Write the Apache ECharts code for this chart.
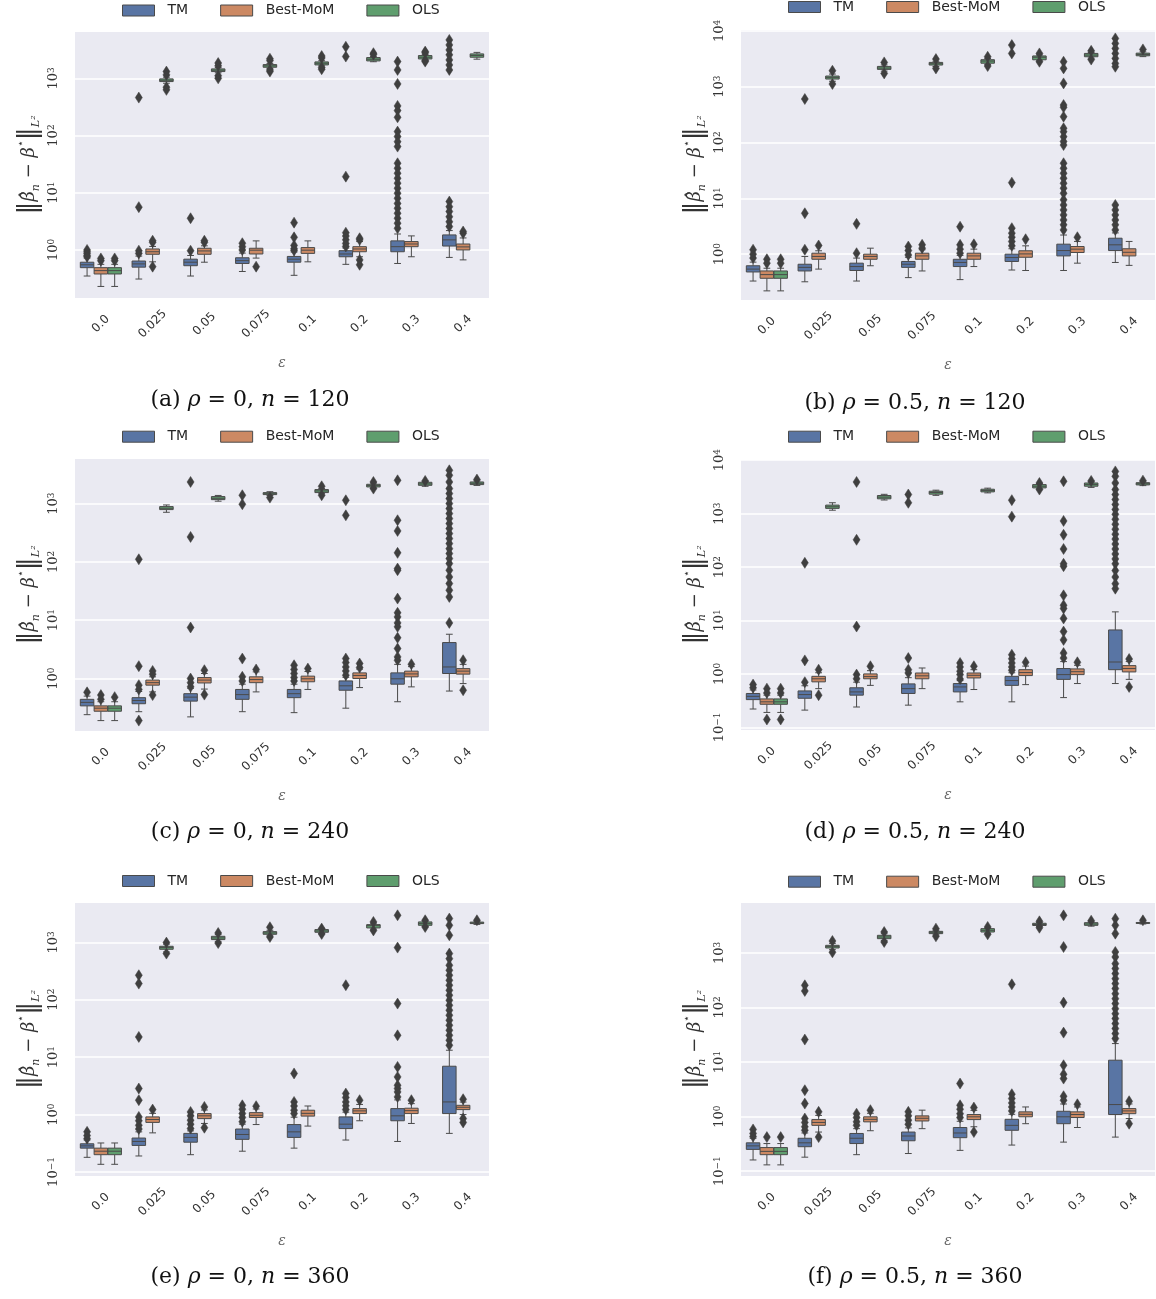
<!DOCTYPE html>
<html><head><meta charset="utf-8">
<script src="https://cdn.jsdelivr.net/npm/echarts@6/dist/echarts.min.js"></script>
<style>html,body{margin:0;padding:0;background:#fff}#c{width:1156px;height:1299px}</style>
</head><body><div id="c"></div><script>
const categories = ['0.0','0.025','0.05','0.075','0.1','0.2','0.3','0.4'];
const hueNames = ['TM','Best-MoM','OLS'];
const captionTags = ['(a)','(b)','(c)','(d)','(e)','(f)'];
const rhoValues = ['0','0.5','0','0.5','0','0.5'];
const nValues = ['120','120','240','240','360','360'];

// box stats: [lower whisker, q1, median, q3, upper whisker] per category
const tmBoxA = [[0.35,0.49,0.55,0.61,0.72],[0.31,0.50,0.57,0.64,0.78],[0.35,0.53,0.61,0.69,0.80],[0.42,0.58,0.65,0.73,0.88],[0.36,0.61,0.69,0.77,0.92],[0.56,0.76,0.85,0.97,1.08],[0.58,0.93,1.14,1.44,1.9],[0.74,1.17,1.5,1.83,2.18]];
const momBoxA = [[0.23,0.38,0.435,0.49,0.56],[0.62,0.84,0.93,1.04,1.15],[0.61,0.84,0.96,1.07,1.18],[0.72,0.85,0.99,1.07,1.44],[0.62,0.87,0.99,1.1,1.44],[0.76,0.93,1.04,1.14,1.4],[0.76,1.14,1.27,1.4,1.76],[0.67,1.0,1.13,1.27,1.62]];
const olsBoxA = [[0.23,0.38,0.435,0.49,0.56],[820,877,925,977,1047],[1250,1312,1386,1460,1540],[1480,1560,1650,1738,1820],[1650,1715,1833,1935,2030],[1950,2015,2155,2305,2400],[2100,2180,2335,2500,2620],[2160,2335,2510,2670,2840]];
const tmOutA = [[1.0,0.93,0.87,0.8,0.76],[0.87,0.97,5.6,460],[0.97,3.58],[1.31,1.14,1.0],[3.0,1.66,1.2,1.05,0.98],[1.15,1.3,1.5,1.75,2.0,19.1,2400,3560],[1960,1400,798,329,273,208,117,96,78,64,32.7,26.8,21.9,17.9,14.7,12,9.8,8.0,6.5,5.35,4.37,3.58,2.93,2.39],[7.0,5.7,4.7,3.8,3.1,2.56,4690,3840,3140,2570,2100,1715,1400]];
const momOutA = [[0.71,0.65],[1.36,1.45,0.51],[1.36,1.45],[0.51],[],[1.5,1.6,0.67,0.55],[],[1.96,2.1]];
const olsOutA = [[0.71,0.65],[1312,1148,700,628],[1850,1650,1110,1000],[2040,2200,1312,1400],[2275,2450,1440,1550],[2750,2600],[2930,1960,2800,2050],[]];

const tmBoxB = [[0.33,0.48,0.54,0.62,0.72],[0.32,0.5,0.58,0.66,0.91],[0.33,0.51,0.6,0.69,0.85],[0.38,0.58,0.66,0.74,0.88],[0.35,0.6,0.71,0.81,0.95],[0.52,0.74,0.87,1.0,1.25],[0.51,0.93,1.16,1.51,2.2],[0.71,1.16,1.47,1.93,2.4]];
const momBoxB = [[0.22,0.37,0.43,0.5,0.56],[0.54,0.81,0.91,1.04,1.15],[0.62,0.81,0.91,1.0,1.28],[0.5,0.81,0.93,1.04,1.2],[0.6,0.81,0.93,1.04,1.23],[0.51,0.88,1.01,1.15,1.41],[0.69,1.07,1.23,1.37,1.69],[0.63,0.93,1.08,1.25,1.69]];
const olsBoxB = [[0.22,0.37,0.43,0.5,0.56],[1250,1370,1467,1550,1680],[1900,2040,2155,2305,2450],[2300,2440,2575,2720,2850],[2500,2630,2875,3040,3200],[2900,3030,3365,3550,3700],[3250,3435,3680,3940,4100],[3450,3575,3775,3985,4200]];
const tmOutB = [[1.2,1.0,0.85],[1.2,5.4,601],[1.04,3.49],[1.37,1.16,0.97],[3.1,1.47,1.23,1.04],[2.92,2.38,2.01,1.69,1.41,19.1,5560,3940],[2800,2125,1145,469,427,290,180,156,127,104,90,42.5,34.5,28.1,22.9,18.6,15.2,12.3,9.4,7.6,6.2,5.05,4.1,3.35,2.72],[7.6,6.2,5.05,4.1,3.35,2.72,7310,5960,4840,3940,3210,2610,2275]];
const momOutB = [[0.81,0.69],[1.43],[],[1.47,1.28],[1.5],[1.85],[2.01],[]];
const olsOutB = [[0.81,0.69],[1930,1115],[2720,1730],[3120,2125],[3435,2340],[3940,2795],[4380,3060],[4650]];

const tmBoxC = [[0.24,0.34,0.39,0.44,0.5],[0.27,0.37,0.42,0.47,0.6],[0.22,0.41,0.48,0.55,0.68],[0.27,0.44,0.53,0.65,0.8],[0.26,0.47,0.55,0.65,0.8],[0.31,0.63,0.75,0.91,1.05],[0.4,0.8,0.99,1.25,1.75],[0.61,1.22,1.58,4.14,5.75]];
const momBoxC = [[0.19,0.275,0.31,0.34,0.4],[0.59,0.77,0.85,0.94,1.07],[0.66,0.84,0.94,1.04,1.22],[0.59,0.85,0.96,1.07,1.3],[0.65,0.88,0.99,1.1,1.32],[0.7,1.0,1.13,1.25,1.45],[0.72,1.07,1.2,1.34,1.6],[0.82,1.19,1.34,1.48,1.75]];
const olsBoxC = [[0.19,0.275,0.31,0.34,0.4],[710,789,832,889,948],[1100,1170,1235,1320,1380],[1380,1427,1505,1540,1600],[1480,1545,1650,1740,1820],[1850,1930,2035,2145,2250],[1980,2060,2175,2320,2400],[2050,2118,2230,2350,2450]];
const tmOutC = [[0.58],[0.19,0.77,0.65,1.63,111],[1.0,0.85,0.72,7.5,268,2350],[1.07,0.91,2.2,1390,975],[1.69,1.43,1.22,1.04,0.91],[2.2,1.88,1.58,1.35,1.14,1140,630],[2510,518,340,143,77,72,23.5,13.4,11.4,9.0,7.7,5.0,3.27,2.35,2.06],[9.0,3725,3060,2350,1808,1485,1218,1000,821,674,553,454,373,306,251,206,169,139,114,93.6,72,55.3,42.5,32.7,25.1]];
const momOutC = [[0.52,0.44],[1.35,1.19,0.52],[1.39,0.53],[1.43],[1.48],[1.81,1.54],[1.76],[2.06,0.63]];
const olsOutC = [[0.48],[],[],[1267],[1980,1390],[2350,1808],[2450],[2580]];

const tmBoxD = [[0.22,0.33,0.38,0.43,0.5],[0.21,0.35,0.41,0.48,0.6],[0.24,0.4,0.46,0.55,0.7],[0.26,0.43,0.53,0.65,0.85],[0.3,0.46,0.57,0.66,0.75],[0.3,0.61,0.75,0.9,1.05],[0.36,0.79,0.97,1.26,1.7],[0.66,1.2,1.67,6.65,14.5]];
const momBoxD = [[0.19,0.27,0.3,0.34,0.4],[0.53,0.71,0.81,0.9,1.05],[0.61,0.81,0.89,1.0,1.15],[0.53,0.81,0.92,1.04,1.29],[0.51,0.84,0.94,1.04,1.2],[0.63,0.93,1.06,1.2,1.4],[0.66,0.97,1.1,1.24,1.45],[0.79,1.09,1.26,1.43,1.7]];
const olsBoxD = [[0.19,0.27,0.3,0.34,0.4],[1160,1255,1346,1445,1600],[1800,1895,2035,2185,2300],[2200,2315,2485,2630,2750],[2450,2557,2705,2865,3000],[2900,3035,3260,3500,3650],[3100,3260,3500,3750,3900],[3350,3450,3630,3800,3950]];
const tmOutD = [[0.63,0.55],[0.7,1.79,120],[0.97,0.81,7.7,324,3920],[1.2,1.04,1.98,2280,1597],[1.6,1.35,1.12,0.97,0.8],[2.28,1.92,1.6,1.35,1.17,1790,879],[4030,730,402,218,115,104,29.6,19.3,16.8,10.9,6.2,4.33,2.45,1.98],[6180,4990,3755,2825,2280,1843,1490,1202,971,784,634,512,413,334,270,218,176,142,115,86,65,48.8,39.4]];
const momOutD = [[0.53,0.44,0.14],[1.2,0.4],[1.39],[],[1.39],[1.65],[1.65],[1.9,0.57]];
const olsOutD = [[0.53,0.44,0.14],[],[],[],[],[3750,2825],[4100],[4150]];

const tmBoxE = [[0.18,0.26,0.285,0.31,0.36],[0.19,0.29,0.34,0.39,0.5],[0.2,0.33,0.4,0.47,0.52],[0.23,0.37,0.45,0.56,0.68],[0.26,0.4,0.5,0.67,0.9],[0.36,0.57,0.68,0.91,1.1],[0.34,0.78,0.95,1.27,1.8],[0.47,1.04,1.66,6.95,13.2]];
const momBoxE = [[0.136,0.2,0.23,0.26,0.32],[0.48,0.73,0.82,0.91,1.05],[0.7,0.85,0.95,1.04,1.2],[0.67,0.89,0.97,1.08,1.25],[0.63,0.94,1.05,1.19,1.41],[0.78,1.04,1.16,1.27,1.5],[0.7,1.04,1.17,1.29,1.55],[1.0,1.22,1.34,1.45,1.65]];
const olsBoxE = [[0.136,0.2,0.23,0.26,0.32],[680,756,808,853,930],[1040,1116,1192,1273,1360],[1300,1380,1456,1535,1620],[1420,1496,1577,1667,1750],[1700,1780,1950,2033,2150],[1900,1980,2118,2265,2350],[2050,2120,2170,2250,2330]];
const tmOutE = [[0.5,0.43,0.38],[0.91,0.78,0.65,0.56,1.78,2.84,22.5,267,191],[1.11,0.95,0.8,0.68,0.57],[1.45,1.24,1.04,0.89,0.75],[1.66,1.41,1.19,1.04,5.2],[2.32,1.98,1.66,1.42,1.22,179],[2955,809,85.7,24,6.76,4.53,3.24,2.84,2.48,2.03],[2590,1980,1325,636,520,398,326,267,218,179,146,120,98,80,65.6,53.7,43.9,35.9,29.4,24,19.7,16.1]];
const momOutE = [[],[1.22],[1.36,0.59],[1.4],[],[1.78],[1.78],[1.85,0.85,0.73]];
const olsOutE = [[],[988,636],[1455,970],[1830,1240],[1733,1400],[2265,1610],[2420,1850],[2420]];

const tmBoxF = [[0.16,0.25,0.29,0.33,0.4],[0.18,0.28,0.33,0.4,0.5],[0.2,0.32,0.4,0.49,0.6],[0.21,0.36,0.44,0.52,0.62],[0.24,0.41,0.5,0.63,0.82],[0.3,0.56,0.69,0.89,1.1],[0.34,0.74,0.99,1.25,1.7],[0.42,1.09,1.66,10.8,21.8]];
const momBoxF = [[0.13,0.2,0.23,0.27,0.32],[0.52,0.69,0.78,0.88,1.05],[0.55,0.8,0.89,0.99,1.15],[0.6,0.83,0.93,1.03,1.31],[0.65,0.88,0.99,1.09,1.3],[0.74,0.99,1.1,1.22,1.5],[0.63,0.96,1.09,1.22,1.5],[0.92,1.13,1.27,1.4,1.7]];
const olsBoxF = [[0.13,0.2,0.23,0.27,0.32],[1150,1233,1305,1380,1500],[1700,1828,1963,2105,2250],[2150,2260,2390,2490,2600],[2300,2420,2600,2790,2850],[3050,3190,3330,3500,3600],[3100,3210,3395,3590,3700],[3400,3480,3540,3620,3700]];
const tmOutF = [[0.58,0.49,0.43],[0.92,0.78,0.65,0.56,1.73,3.04,25.8,255,201],[1.13,0.96,0.8,0.69],[1.22,1.03,0.86,0.72],[1.61,1.36,1.13,0.96,4.03],[2.57,2.14,1.78,1.5,1.27,266],[4890,1285,123,34.6,8.73,5.97,4.97,2.36,1.99],[4250,3210,2260,1042,844,637,516,418,338,274,222,179,145,118,95,77,62.5,50.6,41,33.2,26.9]];
const momOutF = [[0.42],[1.22,0.42],[1.31],[],[1.46,0.52],[],[1.68],[1.91,0.74]];
const olsOutF = [[0.42],[1657,1028],[2422,1588],[2790,2020],[3000,2195],[3800,2900],[3900],[3960]];

// layout (not data)
const panels = [
  {left:75,  top:32,  height:266, min:0.1445, max:6450,  legTop:3.5, capX:250, capY:400, boxes:[tmBoxA,momBoxA,olsBoxA], outs:[tmOutA,momOutA,olsOutA]},
  {left:741, top:30,  height:270, min:0.151,  max:10350, legTop:0,   capX:915, capY:403, boxes:[tmBoxB,momBoxB,olsBoxB], outs:[tmOutB,momOutB,olsOutB]},
  {left:75,  top:459, height:272, min:0.126,  max:5820,  legTop:429.7, capX:250, capY:832, boxes:[tmBoxC,momBoxC,olsBoxC], outs:[tmOutC,momOutC,olsOutC]},
  {left:741, top:460, height:270, min:0.0891, max:10100, legTop:429.7, capX:915, capY:832, boxes:[tmBoxD,momBoxD,olsBoxD], outs:[tmOutD,momOutD,olsOutD]},
  {left:75,  top:903, height:273, min:0.0851, max:4840,  legTop:874, capX:250, capY:1277, boxes:[tmBoxE,momBoxE,olsBoxE], outs:[tmOutE,momOutE,olsOutE]},
  {left:741, top:903, height:273, min:0.0813, max:8240,  legTop:874.7, capX:915, capY:1277, boxes:[tmBoxF,momBoxF,olsBoxF], outs:[tmOutF,momOutF,olsOutF]}
];
const PLOT_W = 414;
const hueColors = ['#5975a4','#cc8963','#5f9e6e'];
const EDGE = '#4a4a4a';
const FLIER = '#3f3f3f';
const SERIF = "'DejaVu Serif', 'Liberation Serif', serif";
const SANS = "'DejaVu Sans', sans-serif";

function bandInfo(api) {
  const a = api.coord([0, 1])[0], b = api.coord([1, 1])[0];
  return b - a;
}
function boxRender(hue) {
  return function (params, api) {
    const cat = api.value(0);
    const band = bandInfo(api);
    const cx = api.coord([cat, 1])[0] + (hue - 1) * band * 0.8 / 3;
    const w = band * 0.8 / 3 * 0.98;
    const yy = k => api.coord([cat, api.value(k)])[1];
    const yLo = yy(1), yQ1 = yy(2), yMed = yy(3), yQ3 = yy(4), yHi = yy(5);
    const ls = () => ({stroke: EDGE, lineWidth: 1});
    return {type: 'group', children: [
      {type:'line', shape:{x1:cx, y1:yQ1, x2:cx, y2:yLo}, style:ls()},
      {type:'line', shape:{x1:cx, y1:yQ3, x2:cx, y2:yHi}, style:ls()},
      {type:'line', shape:{x1:cx-w/4, y1:yLo, x2:cx+w/4, y2:yLo}, style:ls()},
      {type:'line', shape:{x1:cx-w/4, y1:yHi, x2:cx+w/4, y2:yHi}, style:ls()},
      {type:'rect', shape:{x:cx-w/2, y:yQ3, width:w, height:Math.max(yQ1-yQ3, 0.5)}, style:{fill:hueColors[hue], stroke:EDGE, lineWidth:1}},
      {type:'line', shape:{x1:cx-w/2, y1:yMed, x2:cx+w/2, y2:yMed}, style:ls()}
    ]};
  };
}
function flierRender(params, api) {
  const cat = api.value(0), hue = api.value(1);
  const band = bandInfo(api);
  const p = api.coord([cat, api.value(2)]);
  const cx = p[0] + (hue - 1) * band * 0.8 / 3, cy = p[1];
  return {type:'polygon', shape:{points:[[cx, cy-5.5],[cx+3.5, cy],[cx, cy+5.5],[cx-3.5, cy]]},
          style:{fill:FLIER, stroke:FLIER, lineWidth:0.5}};
}
function tickFmt(v) {
  const k = Math.round(Math.log10(v));
  return '{b|10}{s|' + (k < 0 ? '\u2212' + (-k) : k) + '}';
}

const grids = [], xAxes = [], yAxes = [], series = [], legends = [], graphics = [];
panels.forEach((p, pi) => {
  grids.push({left:p.left, top:p.top, width:PLOT_W, height:p.height, show:true, backgroundColor:'#eaeaf2', borderWidth:0, outerBoundsMode:'none'});
  xAxes.push({type:'category', gridIndex:pi, data:categories, boundaryGap:true,
    axisLine:{show:false}, axisTick:{show:false}, splitLine:{show:false},
    axisLabel:{interval:0, rotate:45, align:'center', verticalAlign:'middle', margin:26, fontFamily:SANS, fontSize:12, color:'#333'},
    name:'\u03b5', nameLocation:'middle', nameGap:58,
    nameTextStyle:{fontFamily:SERIF, fontStyle:'italic', fontSize:14, color:'#666'}});
  yAxes.push({type:'log', logBase:10, gridIndex:pi, min:p.min, max:p.max,
    axisLine:{show:false}, axisTick:{show:false},
    splitLine:{show:true, showMinLine:false, showMaxLine:false, lineStyle:{color:'#ffffff', width:1.5}},
    axisLabel:{rotate:90, margin:15, showMinLabel:false, showMaxLabel:false, formatter:tickFmt,
      rich:{b:{fontFamily:SERIF, fontSize:13, color:'#333'}, s:{fontFamily:SERIF, fontSize:9, color:'#333', verticalAlign:'top'}}},
    name:'{d|\u2016}{b|\u03b2\u0302}{s|n}{m| \u2212 }{b|\u03b2}{p|\u22c6}{d|\u2016}{l|L\u00b2}',
    nameLocation:'middle', nameRotate:90, nameGap:33,
    nameTextStyle:{rich:{
      d:{fontFamily:SERIF, fontSize:26, color:'#333'},
      b:{fontFamily:SERIF, fontStyle:'italic', fontSize:18, color:'#333'},
      m:{fontFamily:SERIF, fontSize:18, color:'#333'},
      s:{fontFamily:SERIF, fontStyle:'italic', fontSize:11, color:'#333', verticalAlign:'bottom'},
      p:{fontFamily:SERIF, fontSize:11, color:'#333', verticalAlign:'top'},
      l:{fontFamily:SERIF, fontStyle:'italic', fontSize:11, color:'#333', verticalAlign:'bottom'}}}});
  p.boxes.forEach((bx, hue) => {
    series.push({type:'custom', name:hueNames[hue], xAxisIndex:pi, yAxisIndex:pi, silent:true, animation:false,
      itemStyle:{color:hueColors[hue]}, renderItem:boxRender(hue),
      encode:{x:0, y:[1,2,3,4,5]}, data:bx.map((s, i) => [i].concat(s))});
  });
  const fl = [];
  p.outs.forEach((lists, hue) => lists.forEach((vals, ci) => vals.forEach(v => fl.push([ci, hue, v]))));
  series.push({type:'custom', name:'fliers', xAxisIndex:pi, yAxisIndex:pi, silent:true, animation:false,
    itemStyle:{color:FLIER}, renderItem:flierRender, encode:{x:0, y:2}, data:fl});
  legends.push({left: pi % 2 === 0 ? 122 : 788, top:p.legTop, padding:0, itemGap:32, itemWidth:32, itemHeight:11,
    icon:'rect', selectedMode:false, data:hueNames,
    itemStyle:{borderColor:EDGE, borderWidth:1},
    textStyle:{fontFamily:SANS, fontSize:14, color:'#262626', padding:[0,0,0,8]}});
  graphics.push({type:'text', x:p.capX, y:p.capY, style:{
    text:'{r|' + captionTags[pi] + ' }{i|\u03c1}{r| = ' + rhoValues[pi] + ', }{i|n}{r| = ' + nValues[pi] + '}',
    align:'center', verticalAlign:'middle',
    rich:{r:{fontFamily:SERIF, fontSize:22, fill:'#111'}, i:{fontFamily:SERIF, fontStyle:'italic', fontSize:22, fill:'#111'}}}});
});

const chart = echarts.init(document.getElementById('c'), null, {renderer:'canvas'});
chart.setOption({animation:false, backgroundColor:'#ffffff', grid:grids, xAxis:xAxes, yAxis:yAxes,
  legend:legends, series:series, graphic:graphics});
</script></body></html>
